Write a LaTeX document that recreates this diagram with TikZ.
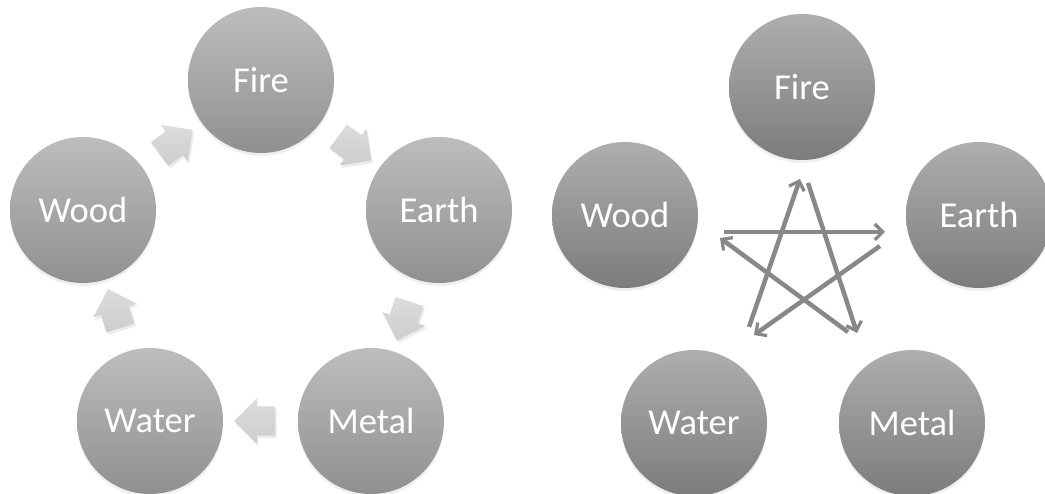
\documentclass[tikz,border=0pt]{standalone}
\usepackage{fontspec}
\setmainfont{Carlito}
\usetikzlibrary{shapes.arrows,arrows.meta,shadows}
\definecolor{circtopL}{HTML}{BDBDBD}
\definecolor{circbotL}{HTML}{909090}
\definecolor{circtopR}{HTML}{AEAEAE}
\definecolor{circbotR}{HTML}{7C7C7C}
\definecolor{blockfill}{HTML}{D8D8D8}
\definecolor{starline}{HTML}{888888}
\tikzset{
  elemL/.style={circle, minimum size=146pt, inner sep=0pt, text=white,
    top color=circtopL, bottom color=circbotL, draw=none,
    font=\fontsize{36.5}{40}\selectfont,
    drop shadow={opacity=0.12, shadow xshift=0pt, shadow yshift=-3pt}},
  elemR/.style={elemL, top color=circtopR, bottom color=circbotR},
  blockarrow/.style={single arrow, draw=none, minimum height=41pt,
    inner xsep=0pt, inner ysep=14.5pt, single arrow head extend=8pt,
    single arrow head indent=0pt, top color=blockfill!90!white, bottom color=blockfill!95!black,
    sloped, allow upside down,
    drop shadow={opacity=0.15, shadow xshift=1.5pt, shadow yshift=-2.5pt}},
  starshaft/.style={draw=starline, line width=4.5pt,
    -{Straight Barb[length=8pt,width=16pt,line width=3.2pt]}},
}
\begin{document}
\begin{tikzpicture}[x=1pt,y=1pt]
\useasboundingbox (0,0) rectangle (1045,494);
\fill[white] (0,0) rectangle (1045,494);
% left panel
\node[elemL] (fireL)  at (261,414) {Fire};
\node[elemL] (woodL)  at (83,284)  {Wood};
\node[elemL] (earthL) at (439,284) {Earth};
\node[elemL] (waterL) at (150,73)  {Water};
\node[elemL] (metalL) at (371,73)  {Metal};
\path (woodL)  -- node[blockarrow, pos=0.47] (a1) {} (fireL);
\path (fireL)  -- node[blockarrow, pos=0.48] (a2) {} (earthL);
\path (earthL) -- node[blockarrow, pos=0.48] (a3) {} (metalL);
\path (metalL) -- node[blockarrow, pos=0.48] (a4) {} (waterL);
\path (waterL) -- node[blockarrow, pos=0.5] (a5) {} (woodL);
% right panel
\node[elemR] (fireR)  at (802,407) {Fire};
\node[elemR] (woodR)  at (625,279) {Wood};
\node[elemR] (earthR) at (979,279) {Earth};
\node[elemR] (waterR) at (694,71)  {Water};
\node[elemR] (metalR) at (912,71)  {Metal};
% star
\coordinate (s1) at (749,167); \coordinate (t1) at (800,315);
\coordinate (s2) at (808,311); \coordinate (t2) at (857,161);
\coordinate (s3) at (724,262); \coordinate (t3) at (885,262);
\coordinate (s4) at (880,248); \coordinate (t4) at (754,159);
\coordinate (s5) at (848,162); \coordinate (t5) at (720,256);
\draw[starshaft] (s1) -- (t1);
\draw[starshaft] (s2) -- (t2);
\draw[starshaft] (s3) -- (t3);
\draw[starshaft] (s4) -- (t4);
\draw[starshaft] (s5) -- (t5);
\end{tikzpicture}
\end{document}
